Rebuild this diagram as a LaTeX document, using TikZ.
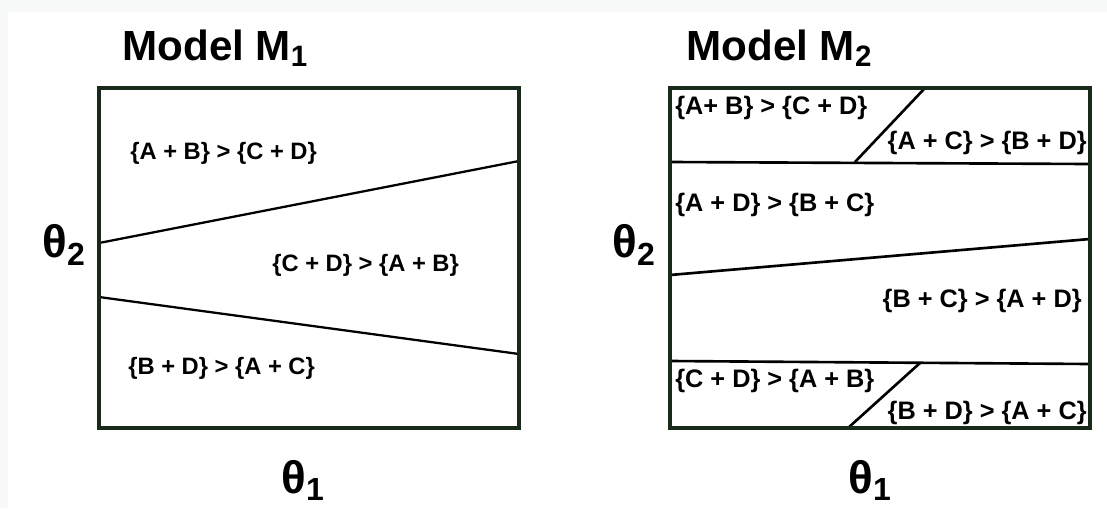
\documentclass[tikz,border=0pt]{standalone}
\usepackage{fontspec}
\setmainfont{Liberation Sans}
\usetikzlibrary{positioning}
\definecolor{framegreen}{HTML}{1A2A1A}
\definecolor{paper}{HTML}{F7F9F9}

\begin{document}
\begin{tikzpicture}[x=0.02cm,y=-0.02cm,
  frame/.style={draw=framegreen,line width=2.3pt},
  split/.style={draw=black,line width=1.3pt},
  region/.style={font=\bfseries\fontsize{13.5}{15}\selectfont,inner sep=0pt},
  bigregion/.style={region,font=\bfseries\fontsize{14.4}{16}\selectfont},
  title/.style={font=\bfseries\fontsize{24}{28}\selectfont,anchor=base west,inner sep=0pt},
  axis/.style={font=\bfseries\fontsize{26}{30}\selectfont,inner sep=0pt}]
  \fill[paper] (0,0) rectangle (1107,508);
  \fill[white] (8,12) rectangle (1107,508);
  \useasboundingbox (0,0) rectangle (1107,508);
  % model M1
  \coordinate (l1a) at (99,243);\coordinate (l1b) at (519,161);
  \coordinate (l2a) at (99,297);\coordinate (l2b) at (519,354);
  \draw[split] (l1a)--(l1b);\draw[split] (l2a)--(l2b);
  \node[frame,minimum width=420*0.02cm,minimum height=340*0.02cm,inner sep=0pt] (boxa) at (309,258) {};
  \node[title] (ta) at (122,60) {Model M\textsubscript{1}};
  \node[region,anchor=west] (ra1) at (130,153) {\{A + B\} > \{C + D\}};
  \node[region,anchor=west] (ra2) at (272,265) {\{C + D\} > \{A + B\}};
  \node[region,anchor=west] (ra3) at (128,368) {\{B + D\} > \{A + C\}};
  \node[axis] (ya) at (64,245) {θ\textsubscript{2}};
  \node[axis] (xa) at (303,480) {θ\textsubscript{1}};
  % model M2
  \coordinate (h1a) at (670,162);\coordinate (h1b) at (1090,164);
  \coordinate (d1a) at (925,88);\coordinate (d1b) at (855,162);
  \coordinate (h2a) at (670,275);\coordinate (h2b) at (1090,239);
  \coordinate (h3a) at (670,361);\coordinate (h3b) at (1090,364);
  \coordinate (d2a) at (920,363);\coordinate (d2b) at (848,428);
  \foreach \p/\q in {h1a/h1b,d1a/d1b,h2a/h2b,h3a/h3b,d2a/d2b}
    \draw[split,line width=1.5pt] (\p)--(\q);
  \node[frame,minimum width=420*0.02cm,minimum height=340*0.02cm,inner sep=0pt] (boxb) at (880,258) {};
  \node[title] (tb) at (686,60) {Model M\textsubscript{2}};
  \node[bigregion,anchor=west] (rb1) at (675,108) {\{A+ B\} > \{C + D\}};
  \node[bigregion,anchor=east] (rb2) at (1087,143) {\{A + C\} > \{B + D\}};
  \node[bigregion,anchor=west] (rb3) at (675,205) {\{A + D\} > \{B + C\}};
  \node[bigregion,anchor=east] (rb4) at (1082,301) {\{B + C\} > \{A + D\}};
  \node[bigregion,anchor=west] (rb5) at (675,381) {\{C + D\} > \{A + B\}};
  \node[bigregion,anchor=east] (rb6) at (1087,413) {\{B + D\} > \{A + C\}};
  \node[axis] (yb) at (634,245) {θ\textsubscript{2}};
  \node[axis] (xb) at (870,480) {θ\textsubscript{1}};
\end{tikzpicture}
\end{document}
